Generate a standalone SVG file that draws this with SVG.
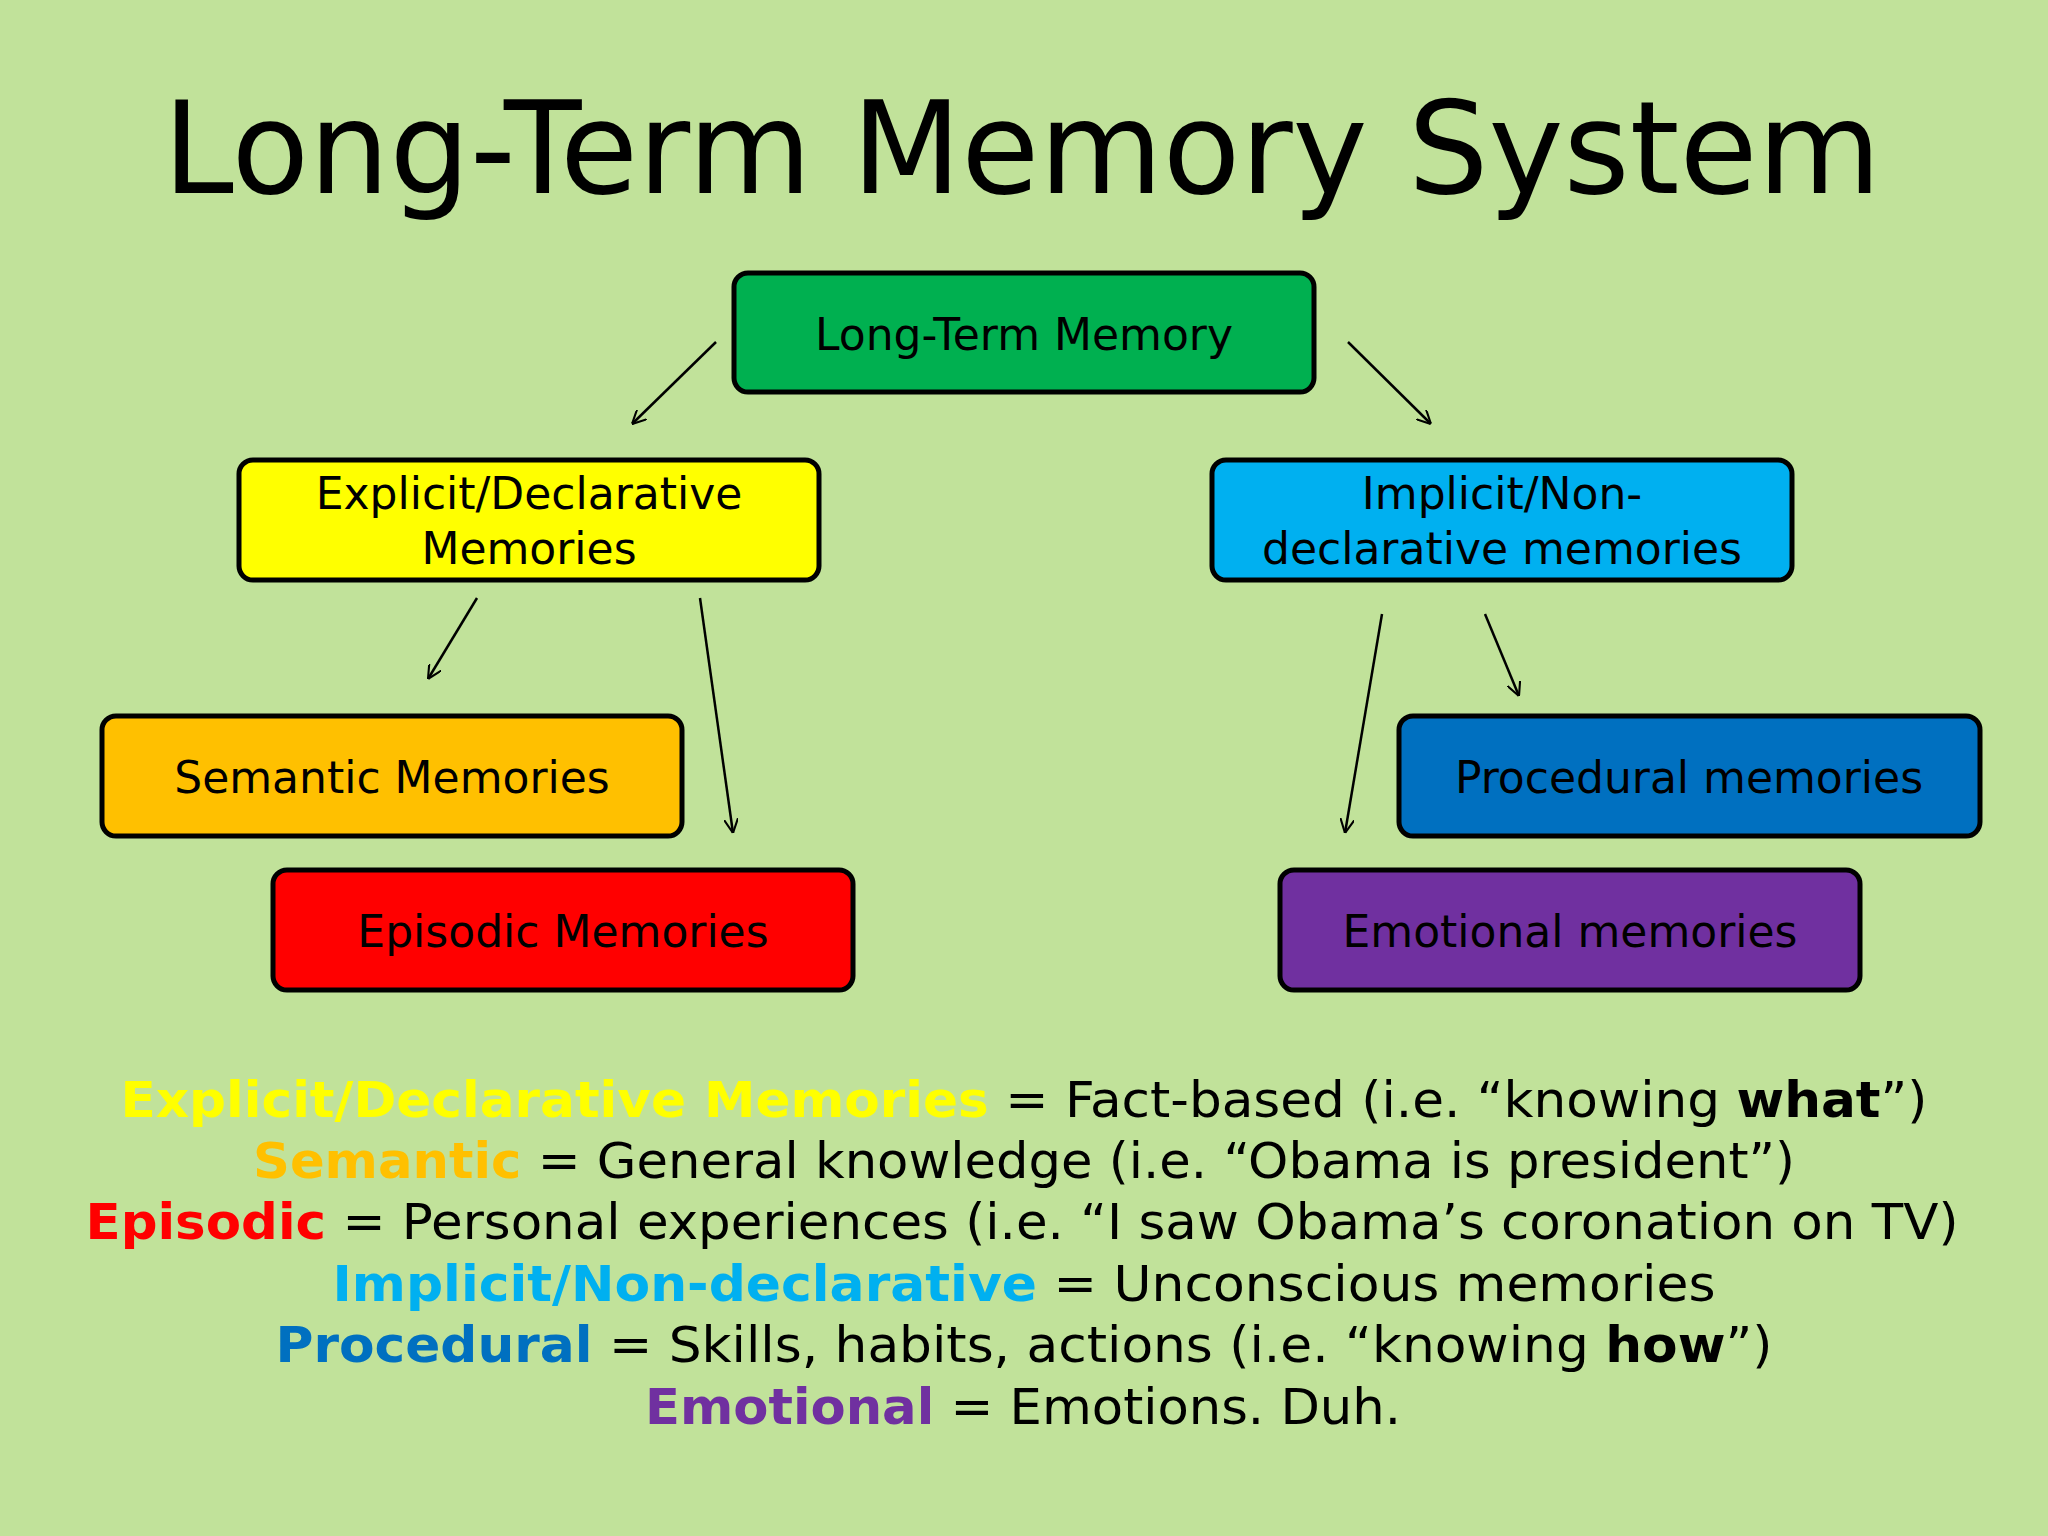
<svg xmlns="http://www.w3.org/2000/svg" width="2048" height="1536" viewBox="0 0 2048 1536">
<style>
.box{stroke:#000;stroke-width:5}
.t{font-family:"DejaVu Sans",Verdana,sans-serif;font-size:44px;fill:#000;text-anchor:middle}
.l{font-family:"DejaVu Sans",Verdana,sans-serif;font-size:49px;fill:#000;text-anchor:middle}
.b{font-weight:bold}
.c line{stroke:#000;stroke-width:2.5;marker-end:url(#ah)}
</style>
<defs><marker id="ah" viewBox="0 0 10 10" refX="10" refY="5" markerWidth="14" markerHeight="14" markerUnits="userSpaceOnUse" orient="auto"><path d="M0,0 L10,5 L0,10" fill="none" stroke="#000" stroke-width="1.5"/></marker></defs>
<rect width="2048" height="1536" fill="#c1e29a"/>
<text x="1022" y="193" font-family="DejaVu Sans,Verdana,sans-serif" font-size="128" text-anchor="middle" textLength="1718" lengthAdjust="spacingAndGlyphs">Long-Term Memory System</text>
<g id="ltm"><rect class="box" x="734" y="273" width="580" height="119" rx="14" fill="#00b050"/><text class="t" x="1024" y="350">Long-Term Memory</text></g>
<g id="explicit"><rect class="box" x="239" y="460" width="580" height="120" rx="14" fill="#ffff00"/><text class="t" x="529" y="509">Explicit/Declarative</text><text class="t" x="529" y="564">Memories</text></g>
<g id="implicit"><rect class="box" x="1212" y="460" width="580" height="120" rx="14" fill="#00b0f0"/><text class="t" x="1502" y="509">Implicit/Non-</text><text class="t" x="1502" y="564">declarative memories</text></g>
<g id="semantic"><rect class="box" x="102" y="716" width="580" height="120" rx="14" fill="#ffc000"/><text class="t" x="392" y="793">Semantic Memories</text></g>
<g id="episodic"><rect class="box" x="273" y="870" width="580" height="120" rx="14" fill="#ff0000"/><text class="t" x="563" y="947">Episodic Memories</text></g>
<g id="procedural"><rect class="box" x="1399" y="716" width="581" height="120" rx="14" fill="#0070c0"/><text class="t" x="1689" y="793">Procedural memories</text></g>
<g id="emotional"><rect class="box" x="1280" y="870" width="580" height="120" rx="14" fill="#7030a0"/><text class="t" x="1570" y="947">Emotional memories</text></g>
<g class="c">
<line x1="716" y1="342" x2="632" y2="424"/>
<line x1="1348" y1="342" x2="1431" y2="424"/>
<line x1="477" y1="598" x2="428" y2="679"/>
<line x1="700" y1="598" x2="733" y2="833"/>
<line x1="1382" y1="614" x2="1345" y2="833"/>
<line x1="1485" y1="614" x2="1519" y2="696"/>
</g>
<text class="l" x="1024" y="1117" textLength="1807" lengthAdjust="spacingAndGlyphs"><tspan class="b" fill="#ffff00">Explicit/Declarative Memories</tspan> = Fact-based (i.e. “knowing <tspan class="b">what</tspan>”)</text>
<text class="l" x="1024" y="1178" textLength="1542" lengthAdjust="spacingAndGlyphs"><tspan class="b" fill="#ffc000">Semantic</tspan> = General knowledge (i.e. “Obama is president”)</text>
<text class="l" x="1022" y="1239" textLength="1873" lengthAdjust="spacingAndGlyphs"><tspan class="b" fill="#ff0000">Episodic</tspan> = Personal experiences (i.e. “I saw Obama’s coronation on TV)</text>
<text class="l" x="1024" y="1301" textLength="1383" lengthAdjust="spacingAndGlyphs"><tspan class="b" fill="#00b0f0">Implicit/Non-declarative</tspan> = Unconscious memories</text>
<text class="l" x="1024" y="1362" textLength="1497" lengthAdjust="spacingAndGlyphs"><tspan class="b" fill="#0070c0">Procedural</tspan> = Skills, habits, actions (i.e. “knowing <tspan class="b">how</tspan>”)</text>
<text class="l" x="1023" y="1424" textLength="756" lengthAdjust="spacingAndGlyphs"><tspan class="b" fill="#7030a0">Emotional</tspan> = Emotions. Duh.</text>
</svg>
